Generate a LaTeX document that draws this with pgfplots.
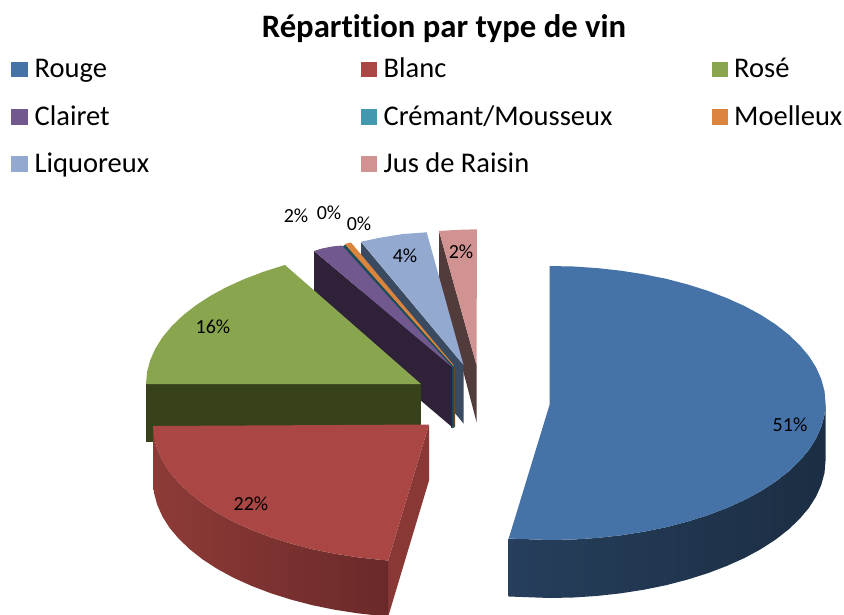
\documentclass[border=0pt]{standalone}
\usepackage{pgfplots}
\pgfplotsset{compat=1.18}
\usepackage{fontspec}
\setmainfont[Ligatures=NoCommon]{Carlito}
\definecolor{cRouge}{HTML}{4572A7}
\definecolor{cBlanc}{HTML}{AA4643}
\definecolor{cRose}{HTML}{89A54E}
\definecolor{cClairet}{HTML}{71588F}
\definecolor{cCremant}{HTML}{4198AF}
\definecolor{cMoelleux}{HTML}{DB843D}
\definecolor{cLiquoreux}{HTML}{93A9CF}
\definecolor{cJus}{HTML}{D19392}
\definecolor{wRoseW}{HTML}{37421B}
\definecolor{wClairet}{HTML}{2E2138}
\definecolor{wLiq}{HTML}{3A4A60}
\definecolor{wJus}{HTML}{523B3B}
\definecolor{wCrem}{HTML}{1D4D59}
\definecolor{wMoel}{HTML}{6E4A22}
\definecolor{wBlancCut}{HTML}{8A3835}
\definecolor{wBlancL}{HTML}{8E3B37}
\definecolor{wBlancR}{HTML}{6A2929}
\begin{document}
\begin{tikzpicture}
\path (0,0) rectangle (844pt,614pt);
\begin{axis}[
  at={(0,0)}, anchor=south west,
  scale only axis, width=844pt, height=614pt,
  xmin=0, xmax=844, ymin=0, ymax=614, y dir=reverse,
  hide axis, clip=true,
  every axis plot/.append style={draw=none, no markers, line width=0pt},
]
% ---- small wedges, back to front
\addplot[fill=wJus] coordinates {(439,231)(476.5,365)(476.5,422)(439,278.5)} -- cycle;
\addplot[fill=cJus] coordinates {(439,231)(450,230.3)(462,229.7)(477,229.3)(476.5,365)} -- cycle;
\addplot[fill=wLiq] coordinates {(361,242)(463.5,365)(463.5,423.5)(361,300)} -- cycle;
\addplot[fill=cLiquoreux] coordinates {(361,241.7)(380,237.7)(403,234)(426.7,232.3)(463.5,365)} -- cycle;
\addplot[fill=wMoel] coordinates {(452,367)(455,367)(455,427)(452,428)} -- cycle;
\addplot[fill=wCrem] coordinates {(451,367)(454,367)(454,427.5)(451,428)} -- cycle;
\addplot[fill=wCrem] coordinates {(342,247)(346,244)(454,367)(452,369)} -- cycle;
\addplot[fill=cMoelleux] coordinates {(344.7,244)(351,242.5)(454,365.5)(453,365.5)} -- cycle;
\addplot[fill=wClairet] coordinates {(314,251)(452,367)(452,427)(314,310)} -- cycle;
\addplot[fill=cClairet] coordinates {(314,251)(322,248.5)(332,246.5)(342,245.5)(452.5,367.5)} -- cycle;
% ---- Rosé
\addplot[fill=wRoseW] coordinates {(146,384)(421,384)(421,442)(146,442)} -- cycle;
\addplot[fill=cRose] coordinates {(421,384)(146,384)(147,372.1)(150.2,360.2)(155.4,348.5)(162.6,337.1)(171.8,326.1)(182.8,315.5)(195.7,305.4)(210.3,295.9)(226.5,287.1)(244.2,279.1)(263.3,271.8)(283.5,265.4)(285,265)} -- cycle;
% ---- Blanc
\addplot[fill=wBlancCut] coordinates {(429,424.5)(429,480.5)(388.2,616.5)(388.2,560.5)} -- cycle;
\addplot[left color=wBlancL, right color=wBlancR, draw=none] coordinates {(153,425)(154,436.9)(157.2,448.8)(162.4,460.5)(169.6,471.9)(178.9,482.9)(190,493.5)(202.9,503.6)(217.6,513.1)(233.8,521.9)(251.6,529.9)(270.7,537.2)(291,543.6)(312.4,549.2)(334.6,553.7)(357.6,557.3)(381.1,559.9)(388.2,560.5)(388.2,616.5)(381.1,615.9)(357.6,613.3)(334.6,609.7)(312.4,605.2)(291,599.6)(270.7,593.2)(251.6,585.9)(233.8,577.9)(217.6,569.1)(202.9,559.6)(190,549.5)(178.9,538.9)(169.6,527.9)(162.4,516.5)(157.2,504.8)(154,492.9)(153,481)} -- cycle;
\addplot[fill=cBlanc] coordinates {(429,424.5)(388.2,560.5)(381.1,559.9)(357.6,557.3)(334.6,553.7)(312.4,549.2)(291,543.6)(270.7,537.2)(251.6,529.9)(233.8,521.9)(217.6,513.1)(202.9,503.6)(190,493.5)(178.9,482.9)(169.6,471.9)(162.4,460.5)(157.2,448.8)(154,436.9)(153,426)} -- cycle;
% ---- Rouge
\addplot[left color=cRouge!55!black, middle color=cRouge!42!black, right color=cRouge!40!black, draw=none] coordinates {(825.5,403)(824.5,414.9)(821.3,426.8)(816.1,438.5)(808.9,449.9)(799.6,460.9)(788.5,471.5)(775.6,481.6)(760.9,491.1)(744.7,499.9)(726.9,507.9)(707.8,515.2)(687.5,521.6)(666.1,527.2)(643.9,531.7)(620.9,535.3)(597.4,537.9)(573.6,539.5)(549.5,540)(508.7,538.5)(508.7,596.5)(549.5,598)(573.6,597.5)(597.4,595.9)(620.9,593.3)(643.9,589.7)(666.1,585.2)(687.5,579.6)(707.8,573.2)(726.9,565.9)(744.7,557.9)(760.9,549.1)(775.6,539.6)(788.5,529.5)(799.6,518.9)(808.9,507.9)(816.1,496.5)(821.3,484.8)(824.5,472.9)(825.5,461)} -- cycle;
\addplot[fill=cRouge] coordinates {(549.5,405)(549.5,266)(573.6,266.5)(597.4,268.1)(620.9,270.7)(643.9,274.3)(666.1,278.8)(687.5,284.4)(707.8,290.8)(726.9,298.1)(744.7,306.1)(760.9,314.9)(775.6,324.4)(788.5,334.5)(799.6,345.1)(808.9,356.1)(816.1,367.5)(821.3,379.2)(824.5,391.1)(825.5,403)(824.5,414.9)(821.3,426.8)(816.1,438.5)(808.9,449.9)(799.6,460.9)(788.5,471.5)(775.6,481.6)(760.9,491.1)(744.7,499.9)(726.9,507.9)(707.8,515.2)(687.5,521.6)(666.1,527.2)(643.9,531.7)(620.9,535.3)(597.4,537.9)(573.6,539.5)(549.5,540)(508.7,538.5)} -- cycle;
% ---- legend swatches
\addplot[fill=cRouge] coordinates {(11,62)(28,62)(28,77)(11,77)} -- cycle;
\addplot[fill=cBlanc] coordinates {(361,62)(377,62)(377,77)(361,77)} -- cycle;
\addplot[fill=cRose] coordinates {(712,62)(728,62)(728,77)(712,77)} -- cycle;
\addplot[fill=cClairet] coordinates {(11,109)(28,109)(28,125)(11,125)} -- cycle;
\addplot[fill=cCremant] coordinates {(361,109)(377,109)(377,125)(361,125)} -- cycle;
\addplot[fill=cMoelleux] coordinates {(712,109)(728,109)(728,125)(712,125)} -- cycle;
\addplot[fill=cLiquoreux] coordinates {(11,156)(28,156)(28,172)(11,172)} -- cycle;
\addplot[fill=cJus] coordinates {(361,156)(377,156)(377,172)(361,172)} -- cycle;
% ---- text
\node[anchor=base, inner sep=0pt, font=\fontsize{32.7}{33}\selectfont\bfseries] at (axis cs:444,37) {Répartition par type de vin};
\tikzset{leg/.style={anchor=base west, inner sep=0pt, font=\fontsize{28.5}{28.5}\selectfont},
  lab/.style={anchor=center, inner sep=0pt, font=\fontsize{20}{20}\selectfont}}
\node[leg] at (axis cs:34.5,77) {Rouge};
\node[leg] at (axis cs:383.5,77) {Blanc};
\node[leg] at (axis cs:734,77) {Rosé};
\node[leg] at (axis cs:34.5,125) {Clairet};
\node[leg] at (axis cs:383.5,125) {Crémant/Mousseux};
\node[leg] at (axis cs:734,125) {Moelleux};
\node[leg] at (axis cs:34.5,172) {Liquoreux};
\node[leg] at (axis cs:383.5,172) {Jus de Raisin};
\node[lab] at (axis cs:790,425) {51\%};
\node[lab] at (axis cs:251,504) {22\%};
\node[lab] at (axis cs:213,327) {16\%};
\node[lab] at (axis cs:405,256) {4\%};
\node[lab] at (axis cs:461,252) {2\%};
\node[lab] at (axis cs:296,216) {2\%};
\node[lab] at (axis cs:329,213) {0\%};
\node[lab] at (axis cs:359,224) {0\%};
\end{axis}
\end{tikzpicture}
\end{document}
